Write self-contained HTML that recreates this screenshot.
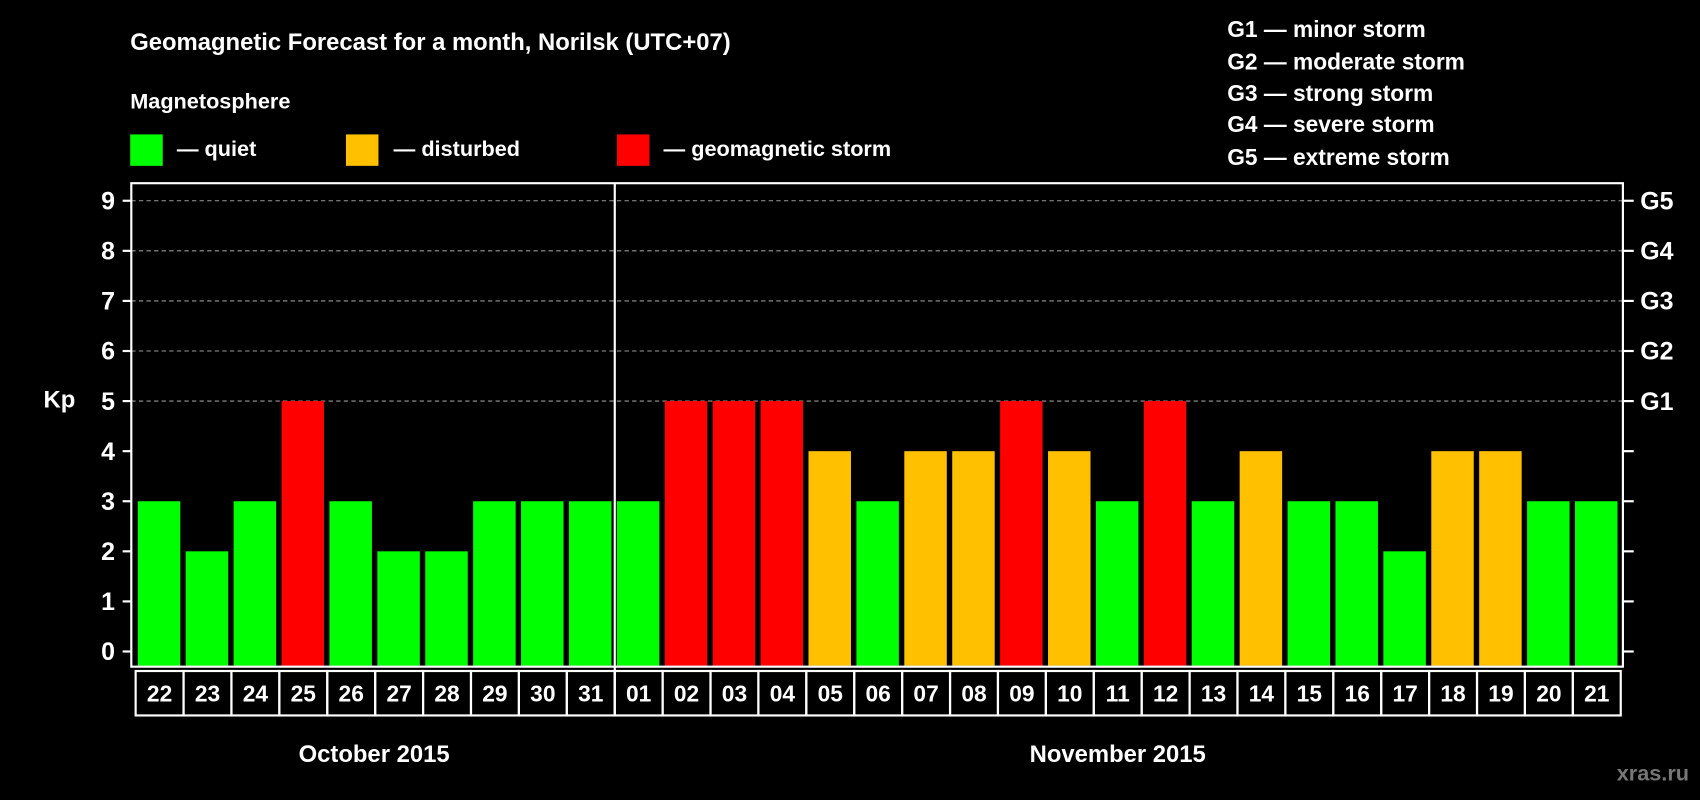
<!DOCTYPE html>
<html><head><meta charset="utf-8"><style>
html,body{margin:0;padding:0;background:#000;}
svg{display:block;}
text{font-family:"Liberation Sans",Arial,sans-serif;font-weight:bold;fill:#fff;}
</style></head><body>
<svg id="chart" width="1700" height="800" viewBox="0 0 1568 738" xmlns="http://www.w3.org/2000/svg">
<rect width="1568" height="738" fill="#000"/>
<text x="120" y="46" font-size="22">Geomagnetic Forecast for a month, Norilsk (UTC+07)</text>
<text x="120" y="100" font-size="20">Magnetosphere</text>
<g><rect x="120" y="124" width="30" height="29" fill="#00ff00"/><text x="163" y="144" font-size="20">— quiet</text></g>
<g><rect x="319" y="124" width="30" height="29" fill="#ffc000"/><text x="363" y="144" font-size="20">— disturbed</text></g>
<g><rect x="569" y="124" width="30" height="29" fill="#ff0000"/><text x="612" y="144" font-size="20">— geomagnetic storm</text></g>
<g font-size="21">
<text x="1132" y="34">G1 — minor storm</text>
<text x="1132" y="64">G2 — moderate storm</text>
<text x="1132" y="93">G3 — strong storm</text>
<text x="1132" y="122">G4 — severe storm</text>
<text x="1132" y="152">G5 — extreme storm</text>
</g>
<text x="40" y="376" font-size="22">Kp</text>
<g id="grid"></g>
<g id="bars"></g>
<rect x="121" y="169" width="1376" height="446" fill="none" stroke="#fff" stroke-width="2"/>
<line x1="567" y1="169" x2="567" y2="660" stroke="#fff" stroke-width="2"/>
<g id="axes"></g>
<g id="dates"></g>
<text x="345" y="703" font-size="22" text-anchor="middle">October 2015</text>
<text x="1031" y="703" font-size="22" text-anchor="middle">November 2015</text>
<text x="1558" y="720" font-size="20" text-anchor="end" style="fill:#777">xras.ru</text>
</svg>
<script>
const days = ["22","23","24","25","26","27","28","29","30","31","01","02","03","04","05","06","07","08","09","10","11","12","13","14","15","16","17","18","19","20","21"];
const kpValues = [3,2,3,5,3,2,2,3,3,3,3,5,5,5,4,3,4,4,5,4,3,5,3,4,3,3,2,4,4,3,3];
const yTicks = [0,1,2,3,4,5,6,7,8,9];
const gLabels = ["G1","G2","G3","G4","G5"];
const NS="http://www.w3.org/2000/svg";
const y = v => 601 - 46.2*v;
const x0 = 125, slot = 1370/days.length;
const xs = i => x0 + i*slot;
function mk(tag, attrs, parent){const e=document.createElementNS(NS,tag);for(const k in attrs)e.setAttribute(k,attrs[k]);parent.appendChild(e);return e;}
const grid=document.getElementById('grid'), bars=document.getElementById('bars'), axes=document.getElementById('axes'), dates=document.getElementById('dates');
yTicks.forEach(v=>{
  if(v>=5){const l=mk('line',{x1:121,x2:1497,y1:y(v),y2:y(v),stroke:'#999','stroke-dasharray':'4,3','stroke-width':1},grid);
    
    }
  const t1=mk('line',{x1:113,x2:121,y1:y(v),y2:y(v),stroke:'#fff','stroke-width':2},axes);
  
  
  const t2=mk('line',{x1:1497,x2:1507,y1:y(v),y2:y(v),stroke:'#fff','stroke-width':2},axes);
  
  
  const tl=mk('text',{x:106,y:y(v)+8,'font-size':23,'text-anchor':'end'},axes);tl.textContent=v;
  
  
  if(v>=5){const g=mk('text',{x:1513,y:y(v)+8,'font-size':23},axes);g.textContent=gLabels[v-5];
    
    }
});
kpValues.forEach((v,i)=>{
  const c=v>=5?'#ff0000':(v>=4?'#ffc000':'#00ff00');
  const r=mk('rect',{x:xs(i)+2,y:y(v),width:slot-5,height:614-y(v),fill:c},bars);
  
  
  const b=mk('rect',{x:xs(i),y:619,width:slot,height:41,fill:'none',stroke:'#fff','stroke-width':2},dates);
  
  
  const t=mk('text',{x:xs(i)+slot/2,y:647,'font-size':21,'text-anchor':'middle'},dates);t.textContent=days[i];
  
  
});
</script>
</body></html>
